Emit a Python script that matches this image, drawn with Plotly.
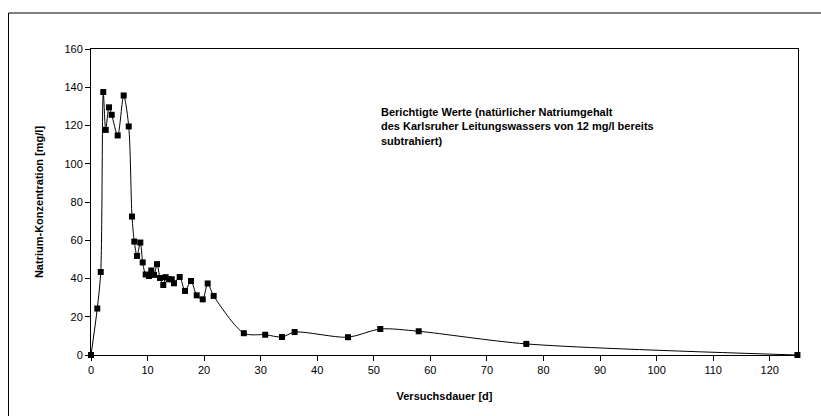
import plotly.graph_objects as go

# Versuchsdauer [d]
days = [0, 1.11, 1.72, 2.17, 2.60, 3.18, 3.66, 4.72, 5.78, 6.67, 7.25, 7.66, 8.13,
        8.72, 9.14, 9.67, 10.25, 10.66, 11.14, 11.67, 12.2, 12.78, 13.2, 13.74,
        14.27, 14.67, 15.68, 16.62, 17.68, 18.69, 19.75, 20.63, 21.69, 27.02,
        30.8, 33.77, 36.0, 45.44, 51.15, 57.94, 76.96, 124.9]
# Natrium-Konzentration [mg/l]
natrium = [0, 24.3, 43.4, 137.5, 117.7, 129.5, 125.6, 114.8, 135.7, 119.5, 72.4,
           59.3, 51.8, 58.8, 48.4, 42.1, 41.3, 44.2, 41.9, 47.5, 40.3, 36.6, 40.7,
           39.6, 39.6, 37.5, 40.8, 33.5, 38.7, 31.2, 29.1, 37.4, 30.9, 11.4, 10.6,
           9.4, 12.0, 9.3, 13.6, 12.4, 5.8, 0]

x_ticks = list(range(0, 121, 10))
y_ticks = list(range(0, 161, 20))

note = ("Berichtigte Werte (natürlicher Natriumgehalt<br>"
        "des Karlsruher Leitungswassers von 12 mg/l bereits<br>"
        "subtrahiert)")

fig = go.Figure()
fig.add_trace(go.Scatter(
    x=days, y=natrium, mode="lines+markers",
    line=dict(color="black", width=1, shape="spline", smoothing=0.8),
    marker=dict(symbol="square", size=6, color="black"),
    showlegend=False, cliponaxis=False,
))

font = "Liberation Sans, Arial, sans-serif"
W, H = 821, 416
L, T = 91, 49
pw, ph = 707, 306
R, B = W - L - pw, H - T - ph

frame_top = (H - B - 13) / ph
frame_left = (8.5 - L) / pw

fig.update_layout(
    width=W, height=H,
    margin=dict(l=L, r=R, t=T, b=B, pad=0, autoexpand=False),
    paper_bgcolor="white", plot_bgcolor="white",
    font=dict(family=font, size=11, color="black"),
    xaxis=dict(range=[0, 125], tickvals=x_ticks, ticks="outside", ticklen=5,
               tickcolor="black", showgrid=False, zeroline=False, automargin=False,
               showline=True, linecolor="black", linewidth=1, mirror=True,
               tickfont=dict(size=11),
               title=dict(text="<b>Versuchsdauer [d]</b>", font=dict(size=11), standoff=17)),
    yaxis=dict(range=[0, 160], tickvals=y_ticks, ticks="outside", ticklen=5,
               tickcolor="black", showgrid=False, zeroline=False, automargin=False,
               showline=True, linecolor="black", linewidth=1, mirror=True,
               tickfont=dict(size=11),
               title=dict(text="<b>Natrium-Konzentration [mg/l]</b>", font=dict(size=11), standoff=18)),
    annotations=[dict(
        text="<b>" + note + "</b>", xref="paper", yref="paper",
        x=(379 - L) / pw, y=(H - B - 104) / ph, xanchor="left", yanchor="top",
        align="left", showarrow=False, font=dict(size=11, family=font),
    )],
    shapes=[
        dict(type="line", xref="paper", yref="paper",
             x0=frame_left, x1=(W + 5 - L) / pw, y0=frame_top, y1=frame_top,
             line=dict(color="black", width=1)),
        dict(type="line", xref="paper", yref="paper",
             x0=frame_left, x1=frame_left, y0=-(B + 5) / ph, y1=frame_top,
             line=dict(color="black", width=1)),
    ],
)

page_js = ("document.body.style.margin='0';document.body.style.overflow='hidden';"
           "document.documentElement.style.overflow='hidden';")
fig.write_html("out.html", post_script=page_js, config={"displayModeBar": False})
